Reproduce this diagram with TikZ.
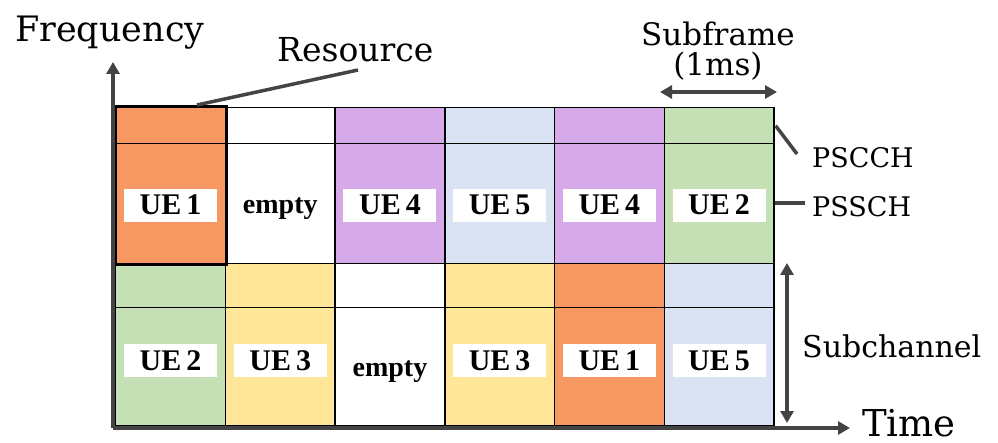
\documentclass[tikz,border=0pt]{standalone}
\usepackage{fontspec}
\setmainfont{DejaVu Serif}
\newfontfamily\tagfont{Liberation Serif}
\usepackage{tikz}
\usetikzlibrary{arrows.meta, positioning, calc}

\definecolor{ueOrange}{RGB}{247,152,98}
\definecolor{uePurple}{RGB}{214,170,232}
\definecolor{ueBlue}{RGB}{218,227,243}
\definecolor{ueGreen}{RGB}{197,224,180}
\definecolor{ueYellow}{RGB}{255,230,153}
\definecolor{axisGray}{RGB}{68,68,68}

\begin{document}
\begin{tikzpicture}[
  x=1pt, y=-1pt,
  cellBox/.style={rectangle, draw=black, line width=1.4pt, minimum width=109.7pt, inner sep=0pt, anchor=north west},
  ctlCell/.style={cellBox, minimum height=36pt},
  ctlCellLow/.style={cellBox, minimum height=44pt},
  dataCell/.style={cellBox, minimum height=120pt},
  dataCellLow/.style={cellBox, minimum height=118pt},
  ueTag/.style={rectangle, fill=white, minimum width=93pt, minimum height=33pt, inner sep=0pt, font=\tagfont\fontsize{30}{32}\selectfont\bfseries},
  emptyTag/.style={inner sep=0pt, anchor=base, font=\tagfont\fontsize{28}{30}\selectfont\bfseries},
  axisLine/.style={draw=axisGray, line width=4pt},
  axisArrow/.style={axisLine, -{Triangle[width=13pt, length=12pt]}},
  spanArrow/.style={axisLine, {Triangle[width=13pt, length=12pt]}-{Triangle[width=13pt, length=12pt]}},
  pointer/.style={draw=axisGray, line width=3.5pt},
  caption/.style={inner sep=0pt, anchor=base west, font=\fontsize{30}{33}\selectfont}
]
\useasboundingbox (0,0) rectangle (998,443);

% upper subchannel
\foreach \col/\fillc/\txt/\tagsty/\dy [count=\i] in {0/ueOrange/{UE\,1}/ueTag/1.5, 1/white/empty/emptyTag/10, 2/uePurple/{UE\,4}/ueTag/1.5, 3/ueBlue/{UE\,5}/ueTag/1.5, 4/uePurple/{UE\,4}/ueTag/1.5, 5/ueGreen/{UE\,2}/ueTag/1.5}{
  \node[ctlCell, fill=\fillc] (ctlA\i) at (115+109.7*\col, 107) {};
  \node[dataCell, fill=\fillc] (datA\i) at (115+109.7*\col, 143) {};
  \node[\tagsty] (tagA\i) at ($(datA\i.center)+(0,\dy)$) {\txt};
}
% lower subchannel
\foreach \col/\fillc/\txt/\tagsty/\dy [count=\i] in {0/ueGreen/{UE\,2}/ueTag/-6, 1/ueYellow/{UE\,3}/ueTag/-6, 2/white/empty/emptyTag/10, 3/ueYellow/{UE\,3}/ueTag/-6, 4/ueOrange/{UE\,1}/ueTag/-6, 5/ueBlue/{UE\,5}/ueTag/-6}{
  \node[ctlCellLow, fill=\fillc] (ctlB\i) at (115+109.7*\col, 263) {};
  \node[dataCellLow, fill=\fillc] (datB\i) at (115+109.7*\col, 307) {};
  \node[\tagsty] (tagB\i) at ($(datB\i.center)+(0,\dy)$) {\txt};
}

% one resource
\draw[line width=3pt] (ctlA1.north west) rectangle (datA1.south east);

% axes
\coordinate (origin) at (113,428);
\coordinate (freqTip) at (113,62);
\coordinate (timeTip) at (850,428);
\draw[axisArrow] (origin) -- (freqTip);
\draw[axisArrow] (origin) -- (timeTip);

% labels
\node[caption, font=\fontsize{35}{38}\selectfont] (freq) at (15,42) {Frequency};
\node[caption, font=\fontsize{37}{40}\selectfont] (time) at (862,436) {Time};
\node[caption, font=\fontsize{33}{36}\selectfont] (res) at (277,62) {Resource};
\node[caption, anchor=center, align=center, font=\fontsize{31}{30}\selectfont] (subframe) at (718,51) {Subframe\\(1ms)};
\node[caption, font=\fontsize{27}{30}\selectfont] (pscch) at (812,168) {PSCCH};
\node[caption, font=\fontsize{27}{30}\selectfont] (pssch) at (812,217) {PSSCH};
\node[caption] (subch) at (802,357) {Subchannel};

% pointers and spans
\draw[pointer] ($(ctlA1.north west)+(82,-2)$) -- ($(res.base west)+(81,8)$);
\draw[pointer] ($(ctlA6.east)+(1,0)$) -- ($(pscch.base west)+(-15,-14)$);
\coordinate (psschFoot) at ($(pssch.base west)+(-7,-14)$);
\draw[pointer] (datA6.east |- psschFoot) -- (psschFoot);
\coordinate (sfLeft) at (660,92);
\coordinate (sfRight) at (777,92);
\draw[spanArrow] (sfLeft) -- (sfRight);
\coordinate (scTop) at (787,263);
\coordinate (scBottom) at (787,423);
\draw[spanArrow] (scTop) -- (scBottom);
\end{tikzpicture}
\end{document}
